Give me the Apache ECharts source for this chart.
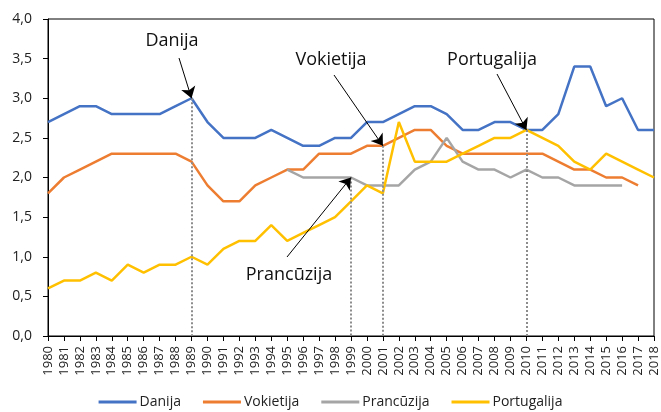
<!DOCTYPE html>
<html>
<head>
<meta charset="utf-8">
<script src="https://cdn.jsdelivr.net/npm/echarts@6/dist/echarts.min.js"></script>
<style>
  html, body { margin: 0; padding: 0; background: #fff; }
  #chart { width: 661px; height: 412px; }
</style>
</head>
<body>
<div id="chart"></div>
<script>
// gadi
const years = ['1980','1981','1982','1983','1984','1985','1986','1987','1988','1989',
  '1990','1991','1992','1993','1994','1995','1996','1997','1998','1999',
  '2000','2001','2002','2003','2004','2005','2006','2007','2008','2009',
  '2010','2011','2012','2013','2014','2015','2016','2017','2018']

const danija = [2.7, 2.8, 2.9, 2.9, 2.8, 2.8, 2.8, 2.8, 2.9, 3.0,
  2.7, 2.5, 2.5, 2.5, 2.6, 2.5, 2.4, 2.4, 2.5, 2.5,
  2.7, 2.7, 2.8, 2.9, 2.9, 2.8, 2.6, 2.6, 2.7, 2.7,
  2.6, 2.6, 2.8, 3.4, 3.4, 2.9, 3.0, 2.6, 2.6]

const vokietija = [1.8, 2.0, 2.1, 2.2, 2.3, 2.3, 2.3, 2.3, 2.3, 2.2,
  1.9, 1.7, 1.7, 1.9, 2.0, 2.1, 2.1, 2.3, 2.3, 2.3,
  2.4, 2.4, 2.5, 2.6, 2.6, 2.4, 2.3, 2.3, 2.3, 2.3,
  2.3, 2.3, 2.2, 2.1, 2.1, 2.0, 2.0, 1.9, null]

const francija = [null, null, null, null, null, null, null, null, null, null,
  null, null, null, null, null, 2.1, 2.0, 2.0, 2.0, 2.0,
  1.9, 1.9, 1.9, 2.1, 2.2, 2.5, 2.2, 2.1, 2.1, 2.0,
  2.1, 2.0, 2.0, 1.9, 1.9, 1.9, 1.9, null, null]

const portugalija = [0.6, 0.7, 0.7, 0.8, 0.7, 0.9, 0.8, 0.9, 0.9, 1.0,
  0.9, 1.1, 1.2, 1.2, 1.4, 1.2, 1.3, 1.4, 1.5, 1.7,
  1.9, 1.8, 2.7, 2.2, 2.2, 2.2, 2.3, 2.4, 2.5, 2.5,
  2.6, 2.5, 2.4, 2.2, 2.1, 2.3, 2.2, 2.1, 2.0]

// anotācijas: teksts, gads, vērtība, teksta un bultas sākuma pozīcija (px)
const notes = [
  { text: 'Danija', year: '1989', value: 3.0, tx: 172, ty: 41, ax: 179, ay: 58 },
  { text: 'Vokietija', year: '2001', value: 2.4, tx: 331, ty: 60, ax: 334, ay: 75 },
  { text: 'Prancūzija', year: '1999', value: 2.0, tx: 289, ty: 275, ax: 287, ay: 257 },
  { text: 'Portugalija', year: '2010', value: 2.6, tx: 492, ty: 60, ax: 497, ay: 74 }
]

const font = '"Open Sans", sans-serif'
const chart = echarts.init(document.getElementById('chart'))

const lineSeries = (name, data, color) => ({
  name,
  type: 'line',
  data,
  symbol: 'none',
  connectNulls: false,
  lineStyle: { width: 2.5, color },
  itemStyle: { color },
  z: 3
})

const option = {
  backgroundColor: '#fff',
  animation: false,
  textStyle: { fontFamily: font },
  grid: {
    left: 48,
    right: 7,
    top: 19,
    bottom: 76,
    show: true,
    borderColor: '#000',
    borderWidth: 1
  },
  legend: {
    top: 390,
    left: 'center',
    icon: 'rect',
    itemWidth: 38,
    itemHeight: 3,
    itemGap: 22,
    textStyle: { fontSize: 14, color: '#222', fontFamily: font, padding: [0, 0, 0, -2] },
    data: ['Danija', 'Vokietija', 'Prancūzija', 'Portugalija']
  },
  xAxis: {
    type: 'category',
    data: years,
    boundaryGap: false,
    axisLine: { lineStyle: { color: '#000' } },
    axisTick: { show: true, alignWithLabel: true, length: 5, lineStyle: { color: '#000' } },
    axisLabel: { rotate: 90, interval: 0, fontSize: 13, color: '#222', margin: 10 }
  },
  yAxis: {
    type: 'value',
    min: 0,
    max: 4,
    interval: 0.5,
    axisLine: { show: true, lineStyle: { color: '#000' } },
    axisTick: { show: true, length: 5, lineStyle: { color: '#000' } },
    splitLine: { show: false },
    axisLabel: {
      fontSize: 14,
      color: '#222',
      margin: 16,
      formatter: v => v.toFixed(1).replace('.', ',')
    }
  },
  series: [
    Object.assign(lineSeries('Danija', danija, '#4472C4'), {
      markLine: {
        silent: true,
        symbol: ['none', 'none'],
        label: { show: false },
        lineStyle: { type: 'dotted', color: '#8c8c8c', width: 2 },
        data: notes.map(n => [{ coord: [n.year, n.value] }, { coord: [n.year, 0] }])
      }
    }),
    Object.assign(lineSeries('Vokietija', vokietija, '#ED7D31'), {
      markLine: {
        silent: true,
        symbol: ['none', 'arrow'],
        symbolSize: 11,
        label: { show: false },
        lineStyle: { type: 'solid', color: '#000', width: 1 },
        z: 10,
        data: notes.map(n => [{ x: n.ax, y: n.ay }, { coord: [n.year, n.value] }])
      }
    }),
    lineSeries('Prancūzija', francija, '#A5A5A5'),
    lineSeries('Portugalija', portugalija, '#FFC000')
  ],
  graphic: notes.map(n => ({
    type: 'text',
    x: n.tx,
    y: n.ty,
    z: 100,
    style: {
      text: n.text,
      fontSize: 18,
      fontFamily: font,
      fill: '#111',
      align: 'center',
      verticalAlign: 'middle',
      backgroundColor: '#fff'
    }
  }))
}

chart.setOption(option)
</script>
</body>
</html>
